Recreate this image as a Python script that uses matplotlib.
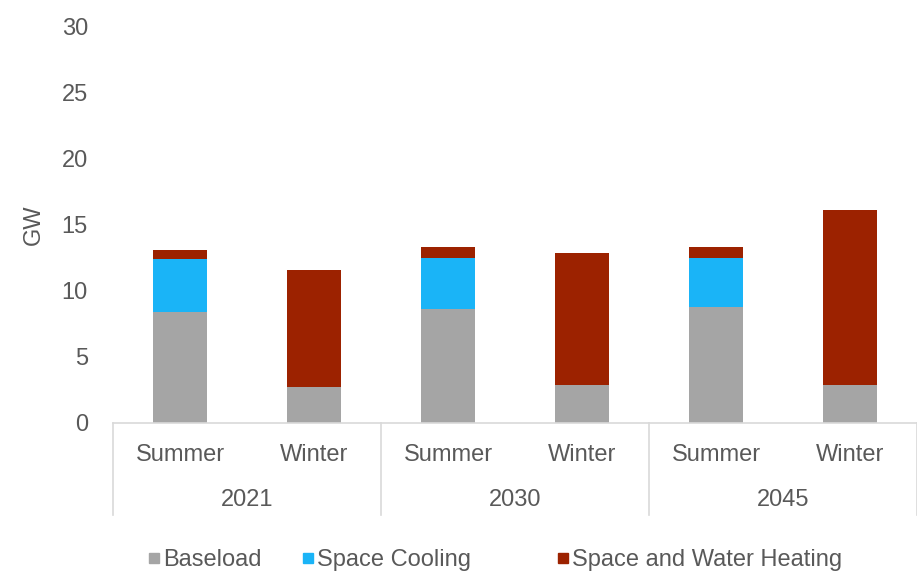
import numpy as np
import matplotlib.pyplot as plt
from matplotlib.lines import Line2D
import matplotlib.transforms as mtransforms

plt.rcParams['font.family'] = ['Liberation Sans Narrow', 'Liberation Sans', 'DejaVu Sans']

# Data (GW)
years = ["2021", "2030", "2045"]
seasons = ["Summer", "Winter"] * 3
baseload = [8.4, 2.7, 8.6, 2.9, 8.8, 2.9]
cooling = [4.0, 0.0, 3.9, 0.0, 3.7, 0.0]
heating = [0.7, 8.9, 0.8, 10.0, 0.8, 13.2]

c_base = "#a5a5a5"
c_cool = "#1ab4f7"
c_heat = "#9c2200"
txt = "#595959"
line_c = "#d9d9d9"
fs = 17

fig = plt.figure(figsize=(9.17, 5.73), dpi=100)
ax = fig.add_axes([0.1232, 0.2618, 0.8768, 0.6911])

x = np.arange(len(seasons))
w = 0.41
base = np.array(baseload)
cool = np.array(cooling)
heat = np.array(heating)
ax.bar(x, base, w, color=c_base, label="Baseload")
ax.bar(x, cool, w, bottom=base, color=c_cool, label="Space Cooling")
ax.bar(x, heat, w, bottom=base + cool, color=c_heat, label="Space and Water Heating")

ax.set_xlim(-0.5, 5.5)
ax.set_ylim(0, 30)
ax.set_yticks(range(0, 31, 5))
ax.tick_params(axis="y", length=0, pad=18, labelsize=fs, labelcolor=txt)
ax.set_xticks(x)
ax.set_xticklabels(seasons)
ax.tick_params(axis="x", length=0, pad=15, labelsize=fs, labelcolor=txt)
for s in ["top", "right", "left"]:
    ax.spines[s].set_visible(False)
ax.spines["bottom"].set_color(line_c)
ax.spines["bottom"].set_linewidth(1.2)

ax.set_ylabel("GW", fontsize=fs, color=txt, labelpad=12)

# year group labels and separators
trans = mtransforms.blended_transform_factory(ax.transData, ax.transAxes)
for i, yr in enumerate(years):
    ax.text(2 * i + 0.5, -0.195, yr, transform=trans, ha="center", va="center",
            fontsize=fs, color=txt)
for xs in [-0.5, 1.5, 3.5, 5.5]:
    ax.plot([xs, xs], [0, -0.232], transform=trans, color=line_c, lw=1.2,
            clip_on=False)

# legend entries placed one by one (uneven spacing as in the reference)
labels = ["Baseload", "Space Cooling", "Space and Water Heating"]
colors = [c_base, c_cool, c_heat]
anchors = [148, 302, 557]
for lab, c, ax_x in zip(labels, colors, anchors):
    h = Line2D([], [], marker="s", ls="", color=c, markersize=7)
    fig.legend([h], [lab], loc="center left", bbox_to_anchor=(ax_x / 917, 0.022),
               frameon=False, fontsize=fs, labelcolor=txt, borderpad=0,
               borderaxespad=0, handlelength=0.5, handletextpad=0.15)

fig.savefig("out.png", dpi=100)
